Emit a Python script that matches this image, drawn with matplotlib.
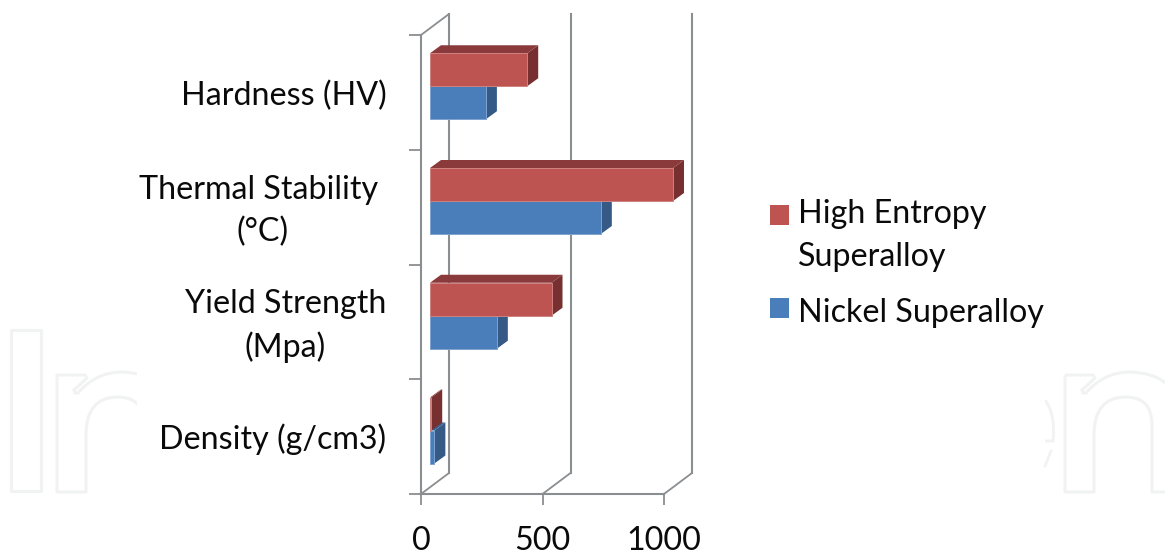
import matplotlib
matplotlib.use("Agg")
import matplotlib.pyplot as plt
from matplotlib.patches import Polygon, Patch, PathPatch, Rectangle
from matplotlib.path import Path
from matplotlib.transforms import ScaledTranslation

categories = ["Density (g/cm3)", "Yield Strength\n(Mpa)", "Thermal Stability \n(°C)", "Hardness (HV)"]
nickel = [18, 275, 703, 230]
high_entropy = [5, 500, 1000, 400]
series_names = ["High Entropy\nSuperalloy", "Nickel Superalloy"]
x_ticks = [0, 500, 1000]

W, H = 1165, 555
plt.rcParams['font.family'] = ['Lato', 'DejaVu Sans']
FS = 23.2
LS = 1.5
TEXT = "#0A0A0A"
AXC = "#8B8E91"
fig = plt.figure(figsize=(W / 100, H / 100), dpi=100, facecolor="white")

# faint watermark fragments behind the chart
bg = fig.add_axes([0, 0, 1, 1], zorder=0)
bg.set_xlim(0, W); bg.set_ylim(H, 0); bg.axis("off")
WM = "#F1F2F2"
def n_shape(o):
    verts = [(57, 375), (85, 375), (87, 378), (74, 390), (75, 393), (78, 393),
             (95, 373), (120, 372), (173, 372), (173, 425), (173, 492), (144, 492),
             (144, 425), (144, 397), (118, 397), (86, 397), (86, 435), (86, 492),
             (57, 492), (57, 375)]
    codes = [Path.MOVETO, Path.LINETO, Path.LINETO, Path.LINETO, Path.LINETO, Path.LINETO,
             Path.CURVE3, Path.CURVE3, Path.CURVE3, Path.CURVE3, Path.LINETO, Path.LINETO,
             Path.LINETO, Path.CURVE3, Path.CURVE3, Path.CURVE3, Path.CURVE3, Path.LINETO,
             Path.LINETO, Path.CLOSEPOLY]
    return Path([(x + o, y) for x, y in verts], codes)
bg.add_patch(Rectangle((11, 330), 30, 161, fill=False, ec=WM, lw=2.2, joinstyle="round"))
clip_l = Rectangle((0, 0), 137, H, transform=bg.transData)
p = PathPatch(n_shape(0), fill=False, ec=WM, lw=2.2, joinstyle="round"); bg.add_patch(p); p.set_clip_path(clip_l)
p = PathPatch(n_shape(1008), fill=False, ec=WM, lw=2.2, joinstyle="round"); bg.add_patch(p)
clip_e = Rectangle((1045, 380), 30, 100, transform=bg.transData)
e_path = Path([(1045, 400), (1056, 415), (1053, 441), (1045, 441)], [Path.MOVETO, Path.CURVE3, Path.CURVE3, Path.LINETO])
p = PathPatch(e_path, fill=False, ec=WM, lw=2.0); bg.add_patch(p); p.set_clip_path(clip_e)
bg.plot([1051, 1045], [451, 466], color=WM, lw=2.0)

# plot axes: the front wall of the 3-D box
L, R, T, B = 421, 664, 35, 494
ax = fig.add_axes([L / W, 1 - B / H, (R - L) / W, (B - T) / H], zorder=1)
ax.patch.set_alpha(0)
ax.set_xlim(0, 1000)
ax.set_ylim(0, 4)
px = 1000 / (R - L)
py = 4 / (B - T)
for s in ("top", "right"):
    ax.spines[s].set_visible(False)
for s in ("left", "bottom"):
    ax.spines[s].set_color(AXC); ax.spines[s].set_linewidth(1.5)

depth_x, depth_y = 28 * px, 21 * py
for v in x_ticks:
    ax.plot([v, v + depth_x], [0, depth_y], color=AXC, lw=1.3, clip_on=False, zorder=1)
    ax.plot([v + depth_x, v + depth_x], [depth_y, 4 + depth_y], color=AXC, lw=1.5, clip_on=False, zorder=1)
ax.plot([0, depth_x], [4, 4 + depth_y], color=AXC, lw=1.3, clip_on=False, zorder=1)

# bars
x0 = 9 * px
bh = 33 * py
base = 30.5 * py
bar_dx, bar_dy = 11 * px, 8 * py
colors = [("#4A7EBB", "#3A5F8C", "#355A86"), ("#BE5451", "#8A3A3A", "#772F2F")]
edges = ["#7FA3D0", "#CE8280"]
for i in range(len(categories)):
    for j, vals in enumerate((nickel, high_entropy)):
        front, top, side = colors[j]
        x1 = x0 + vals[i]
        y0 = i + base + j * bh
        y1 = y0 + bh
        z = 3 + j
        ax.add_patch(Polygon([(x1, y0), (x1 + bar_dx, y0 + bar_dy), (x1 + bar_dx, y1 + bar_dy), (x1, y1)],
                             fc=side, ec="none", clip_on=False, zorder=z))
        ax.add_patch(Polygon([(x0, y1), (x0 + bar_dx, y1 + bar_dy), (x1 + bar_dx, y1 + bar_dy), (x1, y1)],
                             fc=top, ec="none", clip_on=False, zorder=z))
        ax.add_patch(Rectangle((x0, y0), vals[i], bh, fc=front, ec=edges[j], lw=0.7, clip_on=False, zorder=z + 0.5))

ax.set_xticks(x_ticks)
ax.set_xticklabels([str(v) for v in x_ticks], fontsize=FS, color=TEXT)
ax.tick_params(axis="x", length=8, width=1.3, color=AXC, pad=15)
ax.set_yticks(range(5))
ax.set_yticklabels([])
ax.tick_params(axis="y", which="major", length=9, width=1.3, color=AXC)
ax.set_yticks([i + 0.5 for i in range(4)], minor=True)
labels = ax.set_yticklabels(categories, minor=True, fontsize=FS, color=TEXT, ha="right", multialignment="center", linespacing=LS)
ax.tick_params(axis="y", which="minor", length=0, pad=25)
label_dy = [0, 5, 5, -1]
for lab, d in zip(labels, label_dy):
    lab.set_transform(lab.get_transform() + ScaledTranslation(0, d / 100, fig.dpi_scale_trans))

# legend
handles = [Patch(fc=colors[1][0], ec="none"), Patch(fc=colors[0][0], ec="none")]
leg = fig.legend(handles, series_names, loc="upper left", bbox_to_anchor=(770 / W, 1 - 199 / H),
           bbox_transform=fig.transFigure, frameon=False, fontsize=FS, labelcolor=TEXT,
           handlelength=0.6, handleheight=0.58, handletextpad=0.26, labelspacing=0.82,
           borderpad=0, borderaxespad=0)
leg.get_texts()[0].set_linespacing(LS + 0.04)
red_swatch = leg.get_patches()[0]
red_swatch.set_y(red_swatch.get_y() + 15)
blue_swatch = leg.get_patches()[1]
blue_swatch.set_y(blue_swatch.get_y() + 2)

fig.savefig("out.png", dpi=100, facecolor="white")
